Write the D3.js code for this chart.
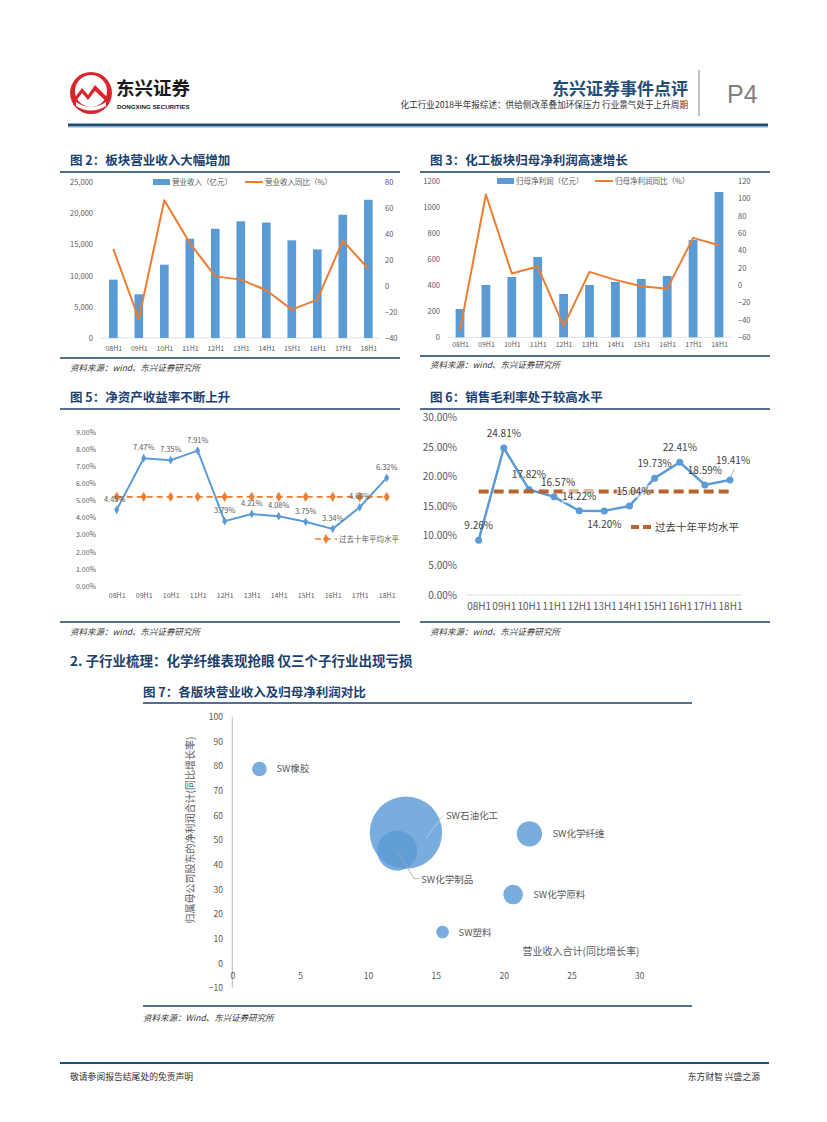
<!DOCTYPE html>
<html><head><meta charset="utf-8">
<script src="https://cdn.jsdelivr.net/npm/d3@7"></script>
<style>body{margin:0;background:#fff}svg{display:block}</style>
</head><body>
<svg id="page" width="827" height="1122"></svg>
<script>
// ---------------- DATA ----------------
const periods = ["08H1","09H1","10H1","11H1","12H1","13H1","14H1","15H1","16H1","17H1","18H1"];
const revenue = [9350, 7000, 11750, 15900, 17500, 18700, 18500, 15650, 14200, 19750, 22150];
const revenueYoY = [28.5, -25.4, 65.9, 33.0, 7.4, 4.9, -3.3, -18.2, -10.5, 34.9, 13.3];
const netProfit = [217, 402, 463, 617, 333, 402, 425, 448, 471, 747, 1116];
const netProfitYoY = [-51.8, 104.4, 13.4, 21.5, -47.2, 15.3, 6.1, -1.2, -4.2, 54.5, 46.0];
const roe = [4.45, 7.47, 7.35, 7.91, 3.79, 4.21, 4.08, 3.75, 3.34, 4.60, 6.32];
const roeAvg = 5.21;
const grossMargin = [9.26, 24.81, 17.82, 16.57, 14.22, 14.20, 15.04, 19.73, 22.41, 18.59, 19.41];
const gmAvg = 17.46;
const revTicks = [0, 5000, 10000, 15000, 20000, 25000];
const revYoYTicks = [-40, -20, 0, 20, 40, 60, 80];
const npTicks = [0, 200, 400, 600, 800, 1000, 1200];
const npYoYTicks = [-60, -40, -20, 0, 20, 40, 60, 80, 100, 120];
const roeTicks = [0,1,2,3,4,5,6,7,8,9];
const gmTicks = [0,5,10,15,20,25,30];
const sectors = ["SW橡胶","SW石油化工","SW化学制品","SW化学纤维","SW化学原料","SW塑料"];
const sectorRevGrowth = [2.0, 12.8, 12.15, 21.9, 20.7, 15.5];
const sectorProfitGrowth = [78.8, 53.0, 45.7, 52.5, 27.9, 12.7];
const sectorSize = [53, 1310, 400, 161, 96, 40];
const bubbleXTicks = [0,5,10,15,20,25,30];
const bubbleYTicks = [-10,0,10,20,30,40,50,60,70,80,90,100];

// ---------------- STYLE ----------------
const svg = d3.select("#page");
const CJK = "'Noto Sans CJK SC','Noto Sans',sans-serif";
const NAVY = "#1B3F6E", BLUE = "#5B9BD5", ORANGE = "#ED7D31", GRAY = "#595959";
svg.append("rect").attr("width",827).attr("height",1122).attr("fill","#fff");

function txt(g, x, y, s, o={}) {
  return g.append("text").attr("x",x).attr("y",y).text(s)
    .attr("font-family", o.ff || CJK).attr("font-size", o.fs || 10)
    .attr("font-weight", o.fw || "normal").attr("fill", o.fill || "#333")
    .attr("text-anchor", o.anchor || "start")
    .attr("font-style", o.italic ? "italic" : "normal");
}
function hline(g, x1, x2, y, w, c) {
  g.append("line").attr("x1",x1).attr("x2",x2).attr("y1",y).attr("y2",y)
   .attr("stroke",c).attr("stroke-width",w);
}

// ---------------- HEADER ----------------
const hdr = svg.append("g");
hdr.append("circle").attr("cx",91).attr("cy",93).attr("r",21).attr("fill","#D7262D");
hdr.append("circle").attr("cx",91).attr("cy",91).attr("r",16).attr("fill","#fff");
hdr.append("path").attr("d","M73,100 L82,88 L88,95 L95,85 L109,99 L109,104 L95,91 L88,100 L82,93 L73,105 Z").attr("fill","#D7262D");
hdr.append("path").attr("d","M76,102 Q91,112 106,102 L106,106 Q91,115 76,106 Z").attr("fill","#fff");
txt(hdr,116,95,"东兴证券",{fs:18.5,fw:"bold",fill:"#1a1a1a"});
txt(hdr,117,108.5,"DONGXING SECURITIES",{fs:6.2,fw:"bold",fill:"#1a1a1a",ff:"'Liberation Sans',Arial,sans-serif"});
txt(hdr,688,95,"东兴证券事件点评",{fs:17,fw:"bold",fill:"#1F4E79",anchor:"end"});
txt(hdr,688,108,"化工行业2018半年报综述：供给侧改革叠加环保压力 行业景气处于上升周期",{fs:8.6,fill:"#333",anchor:"end"});
hdr.append("line").attr("x1",699).attr("x2",699).attr("y1",70).attr("y2",116).attr("stroke","#9a9a9a").attr("stroke-width",1.2);
txt(hdr,727,103,"P4",{fs:25,fill:"#7F7F7F",ff:"'Liberation Sans',Arial,sans-serif"});
hline(hdr,68,768,125,3,"#1F4E79");
hline(hdr,68,768,127.5,1,"#c9d3de");

// ---------------- FOOTER ----------------
hline(svg,60,769,1063,2,"#1F4E79");
txt(svg,70,1080,"敬请参阅报告结尾处的免责声明",{fs:8.8,fill:"#333"});
txt(svg,760,1080,"东方财智 兴盛之源",{fs:8.8,fill:"#333",anchor:"end"});

// ---------------- TITLES / SOURCES ----------------
function panelFrame(x1, x2, title, titleY, lineY, srcLineY, srcY, src) {
  txt(svg, x1+10, titleY, title, {fs:12.5, fw:"bold", fill:NAVY});
  hline(svg, x1, x2, lineY, 1.5, NAVY);
  hline(svg, x1, x2, srcLineY, 1.5, NAVY);
  txt(svg, x1+10, srcY, src, {fs:8.5, fill:"#333", italic:true});
}
panelFrame(60,400,"图 2：板块营业收入大幅增加",165,172,358,371,"资料来源：wind、东兴证券研究所");
panelFrame(420,770,"图 3：化工板块归母净利润高速增长",165,172,356,368,"资料来源：wind、东兴证券研究所");
panelFrame(60,400,"图 5：净资产收益率不断上升",402,409,622,635,"资料来源：wind、东兴证券研究所");
panelFrame(420,770,"图 6：销售毛利率处于较高水平",402,409,622,635,"资料来源：wind、东兴证券研究所");
txt(svg,70,666,"2. 子行业梳理：化学纤维表现抢眼 仅三个子行业出现亏损",{fs:13.5,fw:"bold",fill:NAVY});
txt(svg,143,697,"图 7：各版块营业收入及归母净利润对比",{fs:12.5,fw:"bold",fill:NAVY});
hline(svg,143,692,703,1.5,NAVY);
hline(svg,143,692,1006,1.5,NAVY);
txt(svg,143,1021,"资料来源：Wind、东兴证券研究所",{fs:8.5,fill:"#333",italic:true});

// ---------------- BAR + LINE CHARTS ----------------
function styleAxis(sel, fs, anchor) {
  sel.select(".domain").remove();
  sel.attr("font-family", CJK).attr("font-size", fs);
  sel.selectAll("text").attr("fill", GRAY);
  if (anchor) sel.selectAll("text").attr("text-anchor", anchor);
}
function barLine(o) {
  const g = svg.append("g");
  const x = d3.scalePoint().domain(periods).range(o.xRange).padding(0.5);
  const yl = d3.scaleLinear().domain(o.leftDomain).range([o.y0, o.y1]);
  const yr = d3.scaleLinear().domain(o.rightDomain).range([o.y0, o.y1]);
  const bw = x.step() * 0.34;
  hline(g, o.xRange[0], o.xRange[1], o.y0, 0.8, "#D9D9D9");
  g.selectAll("rect.bar").data(o.bars).join("rect").attr("class","bar")
    .attr("x",(d,i)=>x(periods[i])-bw/2).attr("y",d=>yl(d))
    .attr("width",bw).attr("height",d=>yl(0)-yl(d)).attr("fill",BLUE);
  g.append("path").datum(o.line)
    .attr("d", d3.line().x((d,i)=>x(periods[i])).y(d=>yr(d)))
    .attr("fill","none").attr("stroke",ORANGE).attr("stroke-width",2).attr("stroke-linejoin","round");
  g.append("g").attr("transform",`translate(${o.leftX},0)`)
    .call(d3.axisLeft(yl).tickValues(o.leftTicks).tickFormat(o.leftFmt).tickSize(0).tickPadding(0))
    .call(s=>styleAxis(s,7.5,"end"));
  g.append("g").attr("transform",`translate(${o.rightX},0)`)
    .call(d3.axisRight(yr).tickValues(o.rightTicks).tickSize(0).tickPadding(0))
    .call(s=>styleAxis(s,7.5,"start"));
  g.append("g").attr("transform",`translate(0,${o.xLabelY})`)
    .call(d3.axisBottom(x).tickSize(0).tickPadding(0))
    .call(s=>styleAxis(s,7,"middle"));
  // legend
  g.append("rect").attr("x",o.legX1).attr("y",o.legY-3).attr("width",17).attr("height",6).attr("fill",BLUE);
  txt(g,o.legX1+19,o.legY+3,o.legText1,{fs:7.5,fill:GRAY});
  hline(g,o.legX2,o.legX2+18,o.legY,2,ORANGE);
  txt(g,o.legX2+20,o.legY+3,o.legText2,{fs:7.5,fill:GRAY});
}
barLine({xRange:[100.55,381.05], y0:338, y1:182, bars:revenue, line:revenueYoY,
  leftDomain:[0,25000], rightDomain:[-40,80], leftTicks:revTicks, rightTicks:revYoYTicks,
  leftFmt:d3.format(","), leftX:93, rightX:385, xLabelY:346,
  legX1:153, legX2:245, legY:182, legText1:"营业收入（亿元）", legText2:"营业收入同比（%）"});
barLine({xRange:[447.05,731.95], y0:337.3, y1:181, bars:netProfit, line:netProfitYoY,
  leftDomain:[0,1200], rightDomain:[-60,120], leftTicks:npTicks, rightTicks:npYoYTicks,
  leftFmt:d3.format("d"), leftX:440, rightX:738, xLabelY:342,
  legX1:497, legX2:595, legY:181, legText1:"归母净利润（亿元）", legText2:"归母净利润同比（%）"});

// ---------------- CHART 5: ROE ----------------
(function(){
  const g = svg.append("g");
  const x = d3.scalePoint().domain(periods).range([103.2,400.2]).padding(0.5);
  const y = d3.scaleLinear().domain([0,9]).range([586,432]);
  g.append("g").attr("transform","translate(96,0)")
    .call(d3.axisLeft(y).tickValues(roeTicks).tickFormat(d=>d.toFixed(2)+"%").tickSize(0).tickPadding(0))
    .call(s=>styleAxis(s,7,"end"));
  g.append("g").attr("transform","translate(0,593)")
    .call(d3.axisBottom(x).tickSize(0).tickPadding(0))
    .call(s=>styleAxis(s,7,"middle"));
  g.append("path").datum(roe)
    .attr("d", d3.line().x((d,i)=>x(periods[i])).y(d=>y(d)))
    .attr("fill","none").attr("stroke",BLUE).attr("stroke-width",2);
  g.selectAll("path.rm").data(roe).join("path").attr("class","rm")
    .attr("d", d3.symbol(d3.symbolDiamond, 22))
    .attr("transform",(d,i)=>`translate(${x(periods[i])},${y(d)})`).attr("fill",BLUE);
  const avg = periods.map(()=>roeAvg);
  g.append("path").datum(avg)
    .attr("d", d3.line().x((d,i)=>x(periods[i])).y(d=>y(d)))
    .attr("fill","none").attr("stroke",ORANGE).attr("stroke-width",1.6).attr("stroke-dasharray","6,4");
  g.selectAll("path.am").data(avg).join("path").attr("class","am")
    .attr("d", d3.symbol(d3.symbolDiamond, 30))
    .attr("transform",(d,i)=>`translate(${x(periods[i])},${y(d)})`).attr("fill",ORANGE);
  g.selectAll("text.lbl").data(roe).join("text").attr("class","lbl")
    .attr("x",(d,i)=>x(periods[i]) + (i===0?-2:0)).attr("y",(d)=>y(d)-8)
    .attr("text-anchor","middle").attr("font-family",CJK).attr("font-size",7.5).attr("fill",GRAY)
    .text(d=>d.toFixed(2)+"%");
  g.append("line").attr("x1",315).attr("x2",337).attr("y1",539).attr("y2",539).attr("stroke",ORANGE).attr("stroke-width",1.6).attr("stroke-dasharray","6,4");
  g.append("path").attr("d",d3.symbol(d3.symbolDiamond,30)).attr("transform","translate(326,539)").attr("fill",ORANGE);
  txt(g,339,542,"过去十年平均水平",{fs:7.5,fill:GRAY});
})();

// ---------------- CHART 6: GROSS MARGIN ----------------
(function(){
  const g = svg.append("g");
  const x = d3.scalePoint().domain(periods).range([466.1,742.6]).padding(0.5);
  const y = d3.scaleLinear().domain([0,30]).range([595,417.3]);
  const BROWN = "#B8642C";
  g.append("g").attr("transform","translate(457,0)")
    .call(d3.axisLeft(y).tickValues(gmTicks).tickFormat(d=>d.toFixed(2)+"%").tickSize(0).tickPadding(0))
    .call(s=>styleAxis(s,10,"end"));
  hline(g,466,742,595,0.8,"#D9D9D9");
  g.append("g").attr("transform","translate(0,603)")
    .call(d3.axisBottom(x).tickSize(0).tickPadding(0))
    .call(s=>styleAxis(s,10,"middle"));
  g.append("path").datum(grossMargin)
    .attr("d", d3.line().x((d,i)=>x(periods[i])).y(d=>y(d)))
    .attr("fill","none").attr("stroke",BLUE).attr("stroke-width",2.5).attr("stroke-linejoin","round");
  g.selectAll("circle.gm").data(grossMargin).join("circle").attr("class","gm")
    .attr("cx",(d,i)=>x(periods[i])).attr("cy",d=>y(d)).attr("r",3.5).attr("fill",BLUE);
  g.append("line").attr("x1",x(periods[0])).attr("x2",x(periods[periods.length-1]))
    .attr("y1",y(gmAvg)).attr("y2",y(gmAvg)).attr("stroke",BROWN).attr("stroke-width",4).attr("stroke-dasharray","10,5");
  const place = (d,i) => {
    if (i===5) return [0, 17];
    if (i===10) return [3, -16];
    if (i===3 || i===6) return [4, -11];
    return [0, -11];
  };
  const lg = g.selectAll("g.lbl").data(grossMargin).join("g").attr("class","lbl")
    .attr("transform",(d,i)=>{const p=place(d,i);return `translate(${x(periods[i])+p[0]},${y(d)+p[1]})`;});
  lg.append("rect").attr("x",-17).attr("y",-10).attr("width",34).attr("height",13)
    .attr("fill","#fff").attr("fill-opacity",(d,i)=>(i===4||i===6)?0.55:0);
  lg.append("text").attr("text-anchor","middle").attr("font-family",CJK).attr("font-size",10)
    .attr("fill","#404040").text(d=>d.toFixed(2)+"%");
  g.append("line").attr("x1",x(periods[10])+1).attr("x2",x(periods[10])+4)
    .attr("y1",y(grossMargin[10])-4).attr("y2",y(grossMargin[10])-11).attr("stroke","#A6A6A6").attr("stroke-width",0.8);
  g.append("line").attr("x1",631).attr("x2",653).attr("y1",527).attr("y2",527).attr("stroke",BROWN).attr("stroke-width",4).attr("stroke-dasharray","8,4");
  txt(g,655,531,"过去十年平均水平",{fs:10.5,fill:"#404040"});
})();

// ---------------- CHART 7: BUBBLES ----------------
(function(){
  const g = svg.append("g");
  const x = d3.scaleLinear().domain([0,30]).range([232.3,639.3]);
  const y = d3.scaleLinear().domain([-10,100]).range([988,716.7]);
  const r = d3.scaleSqrt().domain([0,1310]).range([0,36.2]);
  g.append("line").attr("x1",x(0)).attr("x2",x(0)).attr("y1",y(100)).attr("y2",y(-10)).attr("stroke","#BFBFBF").attr("stroke-width",1);
  g.append("g").attr("transform","translate(223,0)")
    .call(d3.axisLeft(y).tickValues(bubbleYTicks).tickSize(0).tickPadding(0))
    .call(s=>styleAxis(s,8.5,"end"));
  g.append("g").attr("transform","translate(0,973)")
    .call(d3.axisBottom(x).tickValues(bubbleXTicks).tickSize(0).tickPadding(0))
    .call(s=>styleAxis(s,8.5,"middle"));
  const idx = d3.range(sectors.length).sort((a,b)=>sectorSize[b]-sectorSize[a]);
  g.selectAll("circle.b").data(idx).join("circle").attr("class","b")
    .attr("cx",i=>x(sectorRevGrowth[i])).attr("cy",i=>y(sectorProfitGrowth[i]))
    .attr("r",i=>r(sectorSize[i])).attr("fill",BLUE).attr("fill-opacity",0.82);
  const off = {"SW橡胶":[17,0],"SW石油化工":[40,-17],"SW化学制品":[24,29],"SW化学纤维":[23,0],"SW化学原料":[20,0],"SW塑料":[16,0]};
  sectors.forEach((s,i)=>{
    const cx = x(sectorRevGrowth[i]), cy = y(sectorProfitGrowth[i]);
    const o = off[s];
    if (s==="SW石油化工") {
      g.append("line").attr("x1",cx+20).attr("y1",cy+6).attr("x2",cx+o[0]-3).attr("y2",cy+o[1]).attr("stroke","#BFD3EA").attr("stroke-width",0.8);
    }
    if (s==="SW化学制品") {
      g.append("path").attr("d",`M${cx},${cy} L${cx+o[0]-7},${cy+o[1]-1} L${cx+o[0]-2},${cy+o[1]-1}`).attr("fill","none").attr("stroke","#A6A6A6").attr("stroke-width",0.8);
    }
    txt(g,cx+o[0],cy+o[1]+3.5,s,{fs:9.5,fill:GRAY});
  });
  g.append("text").attr("transform","translate(194,830) rotate(-90)").attr("text-anchor","middle")
    .attr("font-family",CJK).attr("font-size",10).attr("fill",GRAY).text("归属母公司股东的净利润合计(同比增长率)");
  txt(g,581,955,"营业收入合计(同比增长率)",{fs:10,fill:GRAY,anchor:"middle"});
})();
</script>
</body></html>
